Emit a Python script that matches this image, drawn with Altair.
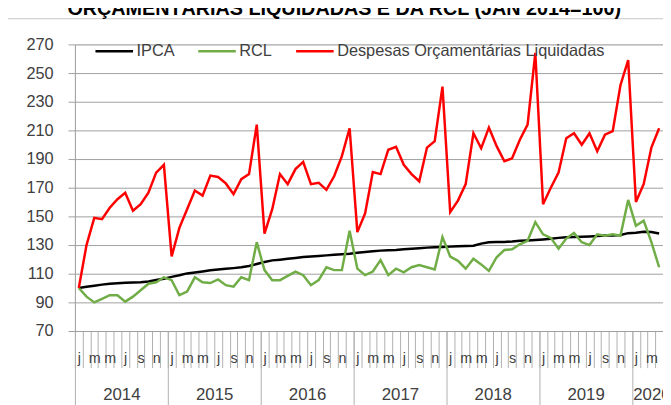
import altair as alt
import pandas as pd

# ---------------- data ----------------
years = ["2014", "2015", "2016", "2017", "2018", "2019", "2020"]
month_letters = ["j", "f", "m", "a", "m", "j", "j", "a", "s", "o", "n", "d"]
series_names = ["IPCA", "RCL", "Despesas Orçamentárias Liquidadas"]
series_colors = ["#000000", "#70AD47", "#FF0000"]
title_text = "ORÇAMENTÁRIAS LIQUIDADAS E DA RCL (JAN 2014=100)"
y_ticks = [70, 90, 110, 130, 150, 170, 190, 210, 230, 250, 270]
last_group_end = 76  # the 2020 category group runs past the cropped right edge

ipca = [100.0, 100.9, 101.6, 102.4, 103.0, 103.4, 103.7, 103.8, 104.0, 104.6, 105.6, 106.5,
        107.8, 108.9, 110.2, 110.9, 111.6, 112.4, 113.0, 113.4, 113.9, 114.5, 115.4, 116.8,
        118.2, 119.3, 119.8, 120.4, 121.0, 121.6, 122.0, 122.4, 122.8, 123.2, 123.6, 124.0,
        124.6, 125.1, 125.6, 126.1, 126.4, 126.6, 127.0, 127.4, 127.8, 128.2, 128.4, 128.7,
        128.9, 129.1, 129.3, 129.5, 131.0, 132.0, 132.1, 132.2, 132.5, 133.0, 133.2, 133.5,
        133.9, 134.4, 135.0, 135.4, 135.6, 135.8, 136.0, 136.3, 136.6, 136.7, 137.0, 138.3,
        138.6, 139.3, 139.1, 138.0]

rcl = [100.0, 94.0, 90.0, 92.5, 95.0, 95.0, 90.5, 94.0, 98.5, 103.0, 104.0, 107.5,
       105.5, 95.0, 97.5, 107.5, 104.0, 103.5, 106.0, 102.0, 101.0, 107.5, 105.5, 132.0,
       112.5, 105.5, 105.5, 108.5, 111.5, 109.0, 102.0, 105.5, 114.5, 112.5, 112.5, 140.0,
       113.5, 109.0, 111.5, 119.5, 109.0, 113.5, 111.0, 114.5, 116.0, 114.5, 113.0, 135.5,
       122.0, 119.0, 113.5, 120.5, 116.5, 112.0, 121.5, 126.5, 127.0, 130.5, 133.0, 146.0,
       137.5, 135.0, 127.5, 134.5, 138.5, 132.0, 130.0, 137.5, 136.5, 137.5, 136.5, 161.5,
       143.5, 147.0, 132.0, 114.5]

despesas = [100.0, 130.0, 149.0, 148.0, 156.0, 162.0, 166.5, 154.0, 158.5, 166.5, 180.5, 186.0,
            122.0, 142.0, 155.0, 168.0, 164.5, 178.5, 177.5, 173.0, 165.5, 176.0, 179.5, 214.0,
            138.0, 155.0, 179.5, 172.5, 183.0, 188.0, 172.5, 173.5, 168.5, 178.0, 192.0, 211.5,
            139.0, 152.0, 181.0, 179.5, 196.5, 198.5, 186.0, 179.5, 174.5, 198.0, 202.5, 240.5,
            153.0, 161.0, 172.5, 208.0, 197.5, 212.0, 199.0, 188.5, 190.5, 203.5, 214.0, 264.0,
            158.5, 170.0, 180.5, 204.5, 208.0, 200.0, 208.0, 195.5, 207.0, 209.5, 241.5, 259.0,
            160.0, 172.5, 198.0, 211.5]

# ---------------- tables ----------------
rows = []
for name, vals in zip(series_names, [ipca, rcl, despesas]):
    for i, v in enumerate(vals):
        rows.append({"mes": i, "serie": name, "valor": v})
df = pd.DataFrame(rows)
title_df = pd.DataFrame({"titulo": [title_text]})

N = len(ipca)
month_bounds = [i - 0.5 for i in range(N)]
month_label_pos = [i for i in range(N) if i % 2 == 0]
year_bounds = [12 * k - 0.5 for k in range(len(years))]
year_centers = [(12 * k + min(12 * k + 11, last_group_end)) / 2 for k in range(len(years))]

# ---------------- style ----------------
FONT = "Liberation Sans"
TEXT = "#404040"
GRID = "#a0a0a0"
TICK = "#b0b0b0"
BORDER = "#c8c8c8"

xscale = alt.Scale(domain=[-0.5, N - 0.5], nice=False, zero=False)
yscale = alt.Scale(domain=[70, 270], nice=False, zero=False)

yenc = alt.Y(
    "valor:Q", scale=yscale,
    axis=alt.Axis(values=y_ticks, title=None, grid=True, gridColor=GRID, gridWidth=1,
                  domain=True, domainColor=GRID, ticks=True, tickSize=7, tickColor=GRID,
                  labelFont=FONT, labelFontSize=16.5, labelColor=TEXT, labelPadding=15),
)

color = alt.Color(
    "serie:N",
    scale=alt.Scale(domain=series_names, range=series_colors),
    legend=alt.Legend(title=None, orient="none", legendX=19.3, legendY=-13.5,
                      direction="horizontal", symbolType="stroke", symbolSize=1444,
                      symbolStrokeWidth=2.5, labelFont=FONT, labelFontSize=16.5,
                      labelColor=TEXT, labelOffset=2, columnPadding=18, padding=0,
                      labelLimit=400),
)

axis_month_ticks = alt.Axis(values=month_bounds, orient="bottom", title=None, labels=False,
                            ticks=True, tickSize=37, tickColor=TICK, domain=True,
                            domainColor=GRID, grid=False)
axis_month_labels = alt.Axis(values=month_label_pos, orient="bottom", title=None,
                             ticks=False, domain=False, grid=False,
                             labelExpr=f"{month_letters}[datum.value % 12]",
                             labelFont=FONT, labelFontSize=14.5, labelColor=TEXT,
                             labelBaseline="middle", labelPadding=28,
                             labelOverlap=False, labelFlush=False)
axis_year_ticks = alt.Axis(values=year_bounds, orient="bottom", title=None, labels=False,
                           ticks=True, tickSize=90, tickColor=TICK, domain=False, grid=False)
axis_year_labels = alt.Axis(values=year_centers, orient="bottom", title=None,
                            ticks=False, domain=False, grid=False,
                            labelExpr=f"{years}[floor(datum.value / 12)]",
                            labelFont=FONT, labelFontSize=17, labelColor=TEXT,
                            labelBaseline="middle", labelPadding=64,
                            labelOverlap=False, labelFlush=False)

base = alt.Chart(df)


def line_layer(name, axis):
    return base.transform_filter(alt.datum.serie == name).mark_line(strokeWidth=2.5).encode(
        x=alt.X("mes:Q", scale=xscale, axis=axis),
        y=yenc,
        color=color,
    )


l_ipca = line_layer("IPCA", axis_month_ticks)
l_rcl = line_layer("RCL", axis_month_labels)
l_desp = line_layer("Despesas Orçamentárias Liquidadas", axis_year_ticks)
l_axis = base.transform_filter(alt.datum.serie == "IPCA").mark_point(opacity=0, size=1).encode(
    x=alt.X("mes:Q", scale=xscale, axis=axis_year_labels),
    y=yenc,
)

title_layer = alt.Chart(title_df).mark_text(
    font=FONT, fontSize=20, fontWeight="bold", color="#000000",
    align="center", baseline="alphabetic",
).encode(x=alt.value(272.5), y=alt.value(-29.5), text="titulo:N")

border_v = alt.Chart(title_df).mark_rule(color=BORDER, strokeWidth=1).encode(
    x=alt.value(-68.2), y=alt.value(-26), y2=alt.value(420))
border_h = alt.Chart(title_df).mark_rule(color=BORDER, strokeWidth=1).encode(
    x=alt.value(-68.2), x2=alt.value(700), y=alt.value(-26))

chart = alt.layer(
    border_v, border_h, title_layer, l_ipca, l_rcl, l_desp, l_axis
).resolve_axis(x="independent").properties(
    width=595, height=290,
    autosize=alt.AutoSizeParams(type="none"),
    padding={"left": 67.7, "top": 34.5, "right": 0, "bottom": 72.5},
).configure_view(stroke=None).configure(background="white")

chart.save("out.html", embed_options={"renderer": "svg", "actions": False})
